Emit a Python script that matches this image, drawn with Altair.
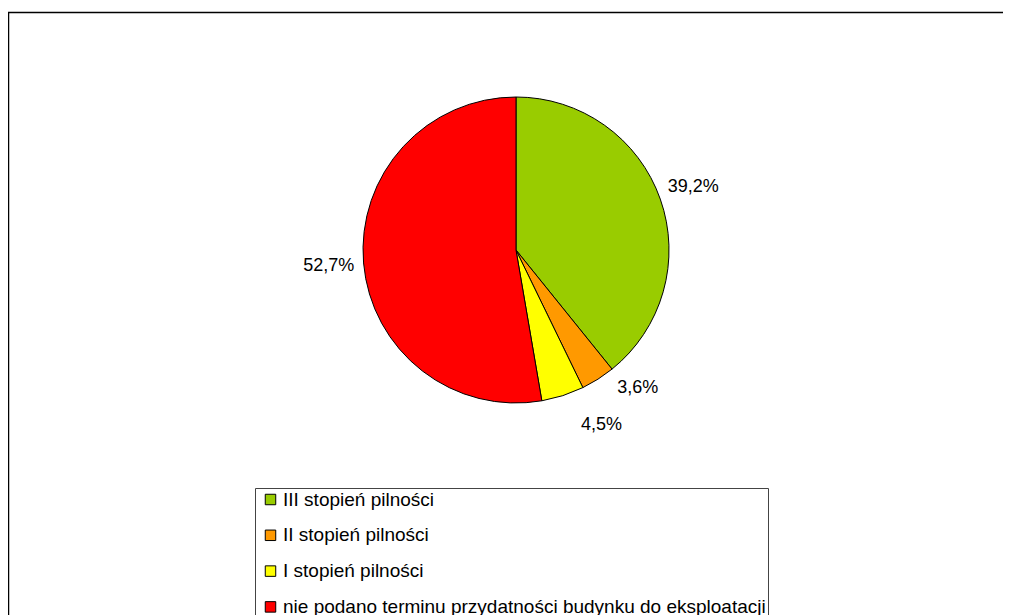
import altair as alt
import pandas as pd

categories = ["III stopień pilności", "II stopień pilności", "I stopień pilności",
              "nie podano terminu przydatności budynku do eksploatacji"]
values = [39.2, 3.6, 4.5, 52.7]
labels = ["39,2%", "3,6%", "4,5%", "52,7%"]
colors = ["#99CC00", "#FF9900", "#FFFF00", "#FF0000"]

df = pd.DataFrame({"category": categories, "value": values, "label": labels,
                   "idx": list(range(len(categories)))})

FONT = "Liberation Sans"
CX, CY, R = 508, 242, 153

theta_scale = alt.Scale(domain=[0, 100])

base = alt.Chart(df).transform_window(
    cum="sum(value)", sort=[alt.SortField("idx")], frame=[None, 0]
).transform_calculate(
    start="datum.cum - datum.value", mid="datum.cum - datum.value / 2"
)

pie = base.mark_arc(stroke="black", strokeWidth=1, outerRadius=R).encode(
    x=alt.value(CX), y=alt.value(CY),
    theta=alt.Theta("start:Q", scale=theta_scale, stack=None),
    theta2="cum:Q",
    color=alt.Color(
        "category:N",
        scale=alt.Scale(domain=categories, range=colors),
        sort=categories,
        legend=alt.Legend(
            title=None, orient="none", legendX=247, legendY=480,
            direction="vertical", symbolType="square", symbolSize=110,
            symbolStrokeColor="black", symbolStrokeWidth=1, symbolOpacity=1,
            symbolOffset=4,
            labelFont=FONT, labelFontSize=19, labelColor="black", labelLimit=800,
            labelOffset=3, rowPadding=15.8, padding=2,
            strokeColor="#444", fillColor="white",
        ),
    ),
)

text_args = dict(font=FONT, fontSize=18, color="black", radius=188)
text_enc = dict(x=alt.value(CX), y=alt.value(CY), text="label:N",
                theta=alt.Theta("mid:Q", scale=theta_scale, stack=None))

text_big = base.mark_text(**text_args).encode(**text_enc).transform_filter(
    "datum.value > 10")
text_orange = base.mark_text(dx=21, dy=-21, **text_args).encode(**text_enc).transform_filter(
    "datum.label == '3,6%'")
text_yellow = base.mark_text(dx=28, dy=-4, **text_args).encode(**text_enc).transform_filter(
    "datum.label == '4,5%'")

frame = alt.Chart(alt.Data(values=[{}])).mark_rect(
    fill=None, stroke="black", strokeWidth=1.5
).encode(x=alt.value(0.5), y=alt.value(4.5), x2=alt.value(3000), y2=alt.value(3000))

chart = alt.layer(frame, pie, text_big, text_orange, text_yellow).properties(
    width=995, height=640, padding=0, autosize=alt.AutoSizeParams(type="none")
).configure_view(stroke=None)

chart.save("out.html", embed_options={"renderer": "svg", "actions": False})
